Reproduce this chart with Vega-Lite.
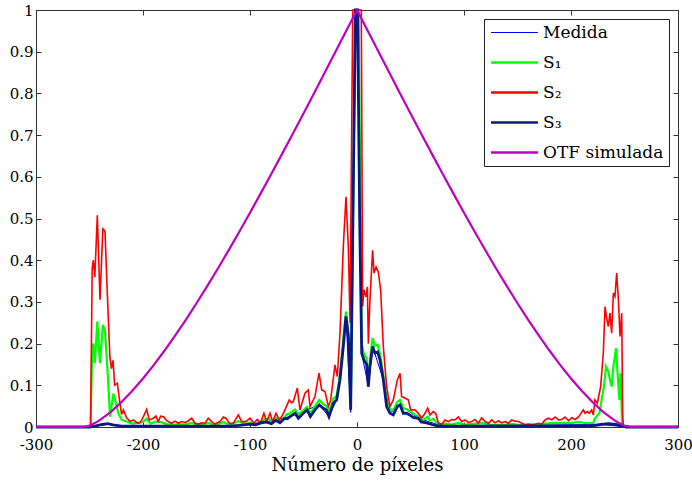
{
"$schema": "https://vega.github.io/schema/vega-lite/v6.json",
"autosize": "none",
"width": 642,
"height": 417,
"padding": {"left": 36, "top": 10, "right": 14, "bottom": 55},
"background": "white",
"config": {
  "view": {"stroke": "#333", "strokeWidth": 1},
  "font": "DejaVu Serif, serif",
  "axis": {"labelFont": "DejaVu Serif, serif", "titleFont": "DejaVu Serif, serif", "labelFontSize": 15, "titleFontSize": 18, "titleFontWeight": "normal", "labelColor": "black", "titleColor": "black", "domainColor": "#333", "tickColor": "#333", "grid": false, "tickSize": -5, "labelFlush": false, "labelOverlap": false}
},
"data": {"values": [
{"s":"OTF","x":-300,"y":0},{"s":"OTF","x":-255,"y":0},{"s":"OTF","x":-250,"y":0.0033},{"s":"OTF","x":-245,"y":0.0094},{"s":"OTF","x":-240,"y":0.0171},{"s":"OTF","x":-230,"y":0.0363},{"s":"OTF","x":-220,"y":0.0598},{"s":"OTF","x":-210,"y":0.0869},{"s":"OTF","x":-200,"y":0.1163},{"s":"OTF","x":-190,"y":0.1484},{"s":"OTF","x":-180,"y":0.1828},{"s":"OTF","x":-170,"y":0.2191},{"s":"OTF","x":-160,"y":0.2571},{"s":"OTF","x":-150,"y":0.2968},{"s":"OTF","x":-140,"y":0.3379},{"s":"OTF","x":-130,"y":0.3802},{"s":"OTF","x":-120,"y":0.4237},{"s":"OTF","x":-110,"y":0.4682},{"s":"OTF","x":-100,"y":0.5138},{"s":"OTF","x":-90,"y":0.5602},{"s":"OTF","x":-80,"y":0.6072},{"s":"OTF","x":-70,"y":0.655},{"s":"OTF","x":-60,"y":0.7032},{"s":"OTF","x":-50,"y":0.7519},{"s":"OTF","x":-40,"y":0.8011},{"s":"OTF","x":-30,"y":0.8506},{"s":"OTF","x":-20,"y":0.9003},{"s":"OTF","x":-10,"y":0.9501},{"s":"OTF","x":0,"y":1},{"s":"OTF","x":10,"y":0.9501},{"s":"OTF","x":20,"y":0.9003},{"s":"OTF","x":30,"y":0.8506},{"s":"OTF","x":40,"y":0.8011},{"s":"OTF","x":50,"y":0.7519},{"s":"OTF","x":60,"y":0.7032},{"s":"OTF","x":70,"y":0.655},{"s":"OTF","x":80,"y":0.6072},{"s":"OTF","x":90,"y":0.5602},{"s":"OTF","x":100,"y":0.5138},{"s":"OTF","x":110,"y":0.4682},{"s":"OTF","x":120,"y":0.4237},{"s":"OTF","x":130,"y":0.3802},{"s":"OTF","x":140,"y":0.3379},{"s":"OTF","x":150,"y":0.2968},{"s":"OTF","x":160,"y":0.2571},{"s":"OTF","x":170,"y":0.2191},{"s":"OTF","x":180,"y":0.1828},{"s":"OTF","x":190,"y":0.1484},{"s":"OTF","x":200,"y":0.1163},{"s":"OTF","x":210,"y":0.0869},{"s":"OTF","x":220,"y":0.0598},{"s":"OTF","x":230,"y":0.0363},{"s":"OTF","x":240,"y":0.0171},{"s":"OTF","x":245,"y":0.0094},{"s":"OTF","x":250,"y":0.0033},{"s":"OTF","x":255,"y":0},{"s":"OTF","x":300,"y":0},

{"s":"S2","x":-300,"y":0},{"s":"S2","x":-249,"y":0},{"s":"S2","x":-247.5,"y":0.38},{"s":"S2","x":-246.4,"y":0.4},{"s":"S2","x":-245,"y":0.36},{"s":"S2","x":-242.7,"y":0.508},{"s":"S2","x":-240.2,"y":0.305},{"s":"S2","x":-237.5,"y":0.475},{"s":"S2","x":-235.5,"y":0.47},{"s":"S2","x":-233.5,"y":0.33},{"s":"S2","x":-231,"y":0.17},{"s":"S2","x":-229.5,"y":0.14},{"s":"S2","x":-228,"y":0.16},{"s":"S2","x":-226.5,"y":0.1},{"s":"S2","x":-224,"y":0.105},{"s":"S2","x":-222,"y":0.066},{"s":"S2","x":-220,"y":0.03},{"s":"S2","x":-218.4,"y":0.041},{"s":"S2","x":-215.3,"y":0.022},{"s":"S2","x":-212,"y":0.013},{"s":"S2","x":-209,"y":0.017},{"s":"S2","x":-205,"y":0.009},{"s":"S2","x":-202.8,"y":0.01},{"s":"S2","x":-200.3,"y":0.021},{"s":"S2","x":-196.6,"y":0.042},{"s":"S2","x":-194.1,"y":0.017},{"s":"S2","x":-190.3,"y":0.021},{"s":"S2","x":-187.9,"y":0.026},{"s":"S2","x":-185.7,"y":0.013},{"s":"S2","x":-183.5,"y":0.026},{"s":"S2","x":-180.4,"y":0.024},{"s":"S2","x":-177.9,"y":0.015},{"s":"S2","x":-173.2,"y":0.009},{"s":"S2","x":-170.1,"y":0.014},{"s":"S2","x":-167,"y":0.009},{"s":"S2","x":-163.9,"y":0.013},{"s":"S2","x":-160.7,"y":0.011},{"s":"S2","x":-157.6,"y":0.015},{"s":"S2","x":-154.5,"y":0.021},{"s":"S2","x":-151.4,"y":0.009},{"s":"S2","x":-148.3,"y":0.007},{"s":"S2","x":-145.2,"y":0.01},{"s":"S2","x":-142.1,"y":0.009},{"s":"S2","x":-139,"y":0.021},{"s":"S2","x":-135.8,"y":0.013},{"s":"S2","x":-132.7,"y":0.007},{"s":"S2","x":-128,"y":0.013},{"s":"S2","x":-124.9,"y":0.024},{"s":"S2","x":-122.4,"y":0.021},{"s":"S2","x":-119.3,"y":0.009},{"s":"S2","x":-115.6,"y":0.009},{"s":"S2","x":-110.9,"y":0.029},{"s":"S2","x":-107.8,"y":0.013},{"s":"S2","x":-103.8,"y":0.013},{"s":"S2","x":-100,"y":0.021},{"s":"S2","x":-96.3,"y":0.009},{"s":"S2","x":-93.2,"y":0.018},{"s":"S2","x":-90.1,"y":0.01},{"s":"S2","x":-87,"y":0.033},{"s":"S2","x":-84.5,"y":0.013},{"s":"S2","x":-81.3,"y":0.033},{"s":"S2","x":-78.8,"y":0.013},{"s":"S2","x":-75.7,"y":0.033},{"s":"S2","x":-72.6,"y":0.017},{"s":"S2","x":-69.5,"y":0.029},{"s":"S2","x":-65.8,"y":0.05},{"s":"S2","x":-63.3,"y":0.065},{"s":"S2","x":-61,"y":0.058},{"s":"S2","x":-59.5,"y":0.061},{"s":"S2","x":-55.8,"y":0.093},{"s":"S2","x":-53.3,"y":0.041},{"s":"S2","x":-48.6,"y":0.081},{"s":"S2","x":-45.5,"y":0.089},{"s":"S2","x":-43.9,"y":0.049},{"s":"S2","x":-39.3,"y":0.073},{"s":"S2","x":-35.5,"y":0.129},{"s":"S2","x":-33,"y":0.089},{"s":"S2","x":-29.9,"y":0.085},{"s":"S2","x":-26.8,"y":0.049},{"s":"S2","x":-24.6,"y":0.065},{"s":"S2","x":-20.6,"y":0.149},{"s":"S2","x":-18.4,"y":0.121},{"s":"S2","x":-15.9,"y":0.225},{"s":"S2","x":-12.8,"y":0.432},{"s":"S2","x":-10.3,"y":0.552},{"s":"S2","x":-8.1,"y":0.432},{"s":"S2","x":-6.5,"y":0.25},{"s":"S2","x":-4,"y":1},{"s":"S2","x":4,"y":1},{"s":"S2","x":5.3,"y":0.289},{"s":"S2","x":6.5,"y":0.329},{"s":"S2","x":8.4,"y":0.312},{"s":"S2","x":9.7,"y":0.336},{"s":"S2","x":10.6,"y":0.2},{"s":"S2","x":12.1,"y":0.305},{"s":"S2","x":14.6,"y":0.424},{"s":"S2","x":15.9,"y":0.369},{"s":"S2","x":17.8,"y":0.384},{"s":"S2","x":19.9,"y":0.372},{"s":"S2","x":22.1,"y":0.329},{"s":"S2","x":24.6,"y":0.193},{"s":"S2","x":27.7,"y":0.097},{"s":"S2","x":30.8,"y":0.049},{"s":"S2","x":33.9,"y":0.065},{"s":"S2","x":37.7,"y":0.113},{"s":"S2","x":40.2,"y":0.129},{"s":"S2","x":41.7,"y":0.073},{"s":"S2","x":44.9,"y":0.069},{"s":"S2","x":47.9,"y":0.065},{"s":"S2","x":50.2,"y":0.041},{"s":"S2","x":54.2,"y":0.041},{"s":"S2","x":57.3,"y":0.033},{"s":"S2","x":60.4,"y":0.021},{"s":"S2","x":63.6,"y":0.033},{"s":"S2","x":66.1,"y":0.045},{"s":"S2","x":68.2,"y":0.029},{"s":"S2","x":71.3,"y":0.037},{"s":"S2","x":73.5,"y":0.033},{"s":"S2","x":76,"y":0.01},{"s":"S2","x":79.1,"y":0.006},{"s":"S2","x":82.2,"y":0.017},{"s":"S2","x":85.4,"y":0.013},{"s":"S2","x":88.5,"y":0.018},{"s":"S2","x":91.6,"y":0.017},{"s":"S2","x":94.7,"y":0.024},{"s":"S2","x":97.8,"y":0.013},{"s":"S2","x":100.9,"y":0.017},{"s":"S2","x":104.1,"y":0.011},{"s":"S2","x":107.2,"y":0.013},{"s":"S2","x":110.3,"y":0.018},{"s":"S2","x":113.4,"y":0.009},{"s":"S2","x":116.5,"y":0.022},{"s":"S2","x":119.7,"y":0.013},{"s":"S2","x":122.8,"y":0.009},{"s":"S2","x":125.9,"y":0.017},{"s":"S2","x":129,"y":0.01},{"s":"S2","x":132.2,"y":0.015},{"s":"S2","x":135.3,"y":0.01},{"s":"S2","x":138.4,"y":0.013},{"s":"S2","x":141.5,"y":0.009},{"s":"S2","x":144.6,"y":0.017},{"s":"S2","x":147.7,"y":0.014},{"s":"S2","x":150.9,"y":0.013},{"s":"S2","x":154,"y":0.009},{"s":"S2","x":157.1,"y":0.006},{"s":"S2","x":160.2,"y":0.007},{"s":"S2","x":163.4,"y":0.006},{"s":"S2","x":166.5,"y":0.007},{"s":"S2","x":169.6,"y":0.009},{"s":"S2","x":172.7,"y":0.007},{"s":"S2","x":175.8,"y":0.017},{"s":"S2","x":178.9,"y":0.021},{"s":"S2","x":182.1,"y":0.017},{"s":"S2","x":185.2,"y":0.024},{"s":"S2","x":188.3,"y":0.017},{"s":"S2","x":191.4,"y":0.018},{"s":"S2","x":194.5,"y":0.024},{"s":"S2","x":197.7,"y":0.015},{"s":"S2","x":200.8,"y":0.022},{"s":"S2","x":203.9,"y":0.018},{"s":"S2","x":207,"y":0.024},{"s":"S2","x":208.4,"y":0.029},{"s":"S2","x":211.5,"y":0.041},{"s":"S2","x":213.1,"y":0.033},{"s":"S2","x":215.3,"y":0.037},{"s":"S2","x":217.1,"y":0.033},{"s":"S2","x":219.3,"y":0.041},{"s":"S2","x":220.9,"y":0.029},{"s":"S2","x":222.4,"y":0.065},{"s":"S2","x":224.6,"y":0.057},{"s":"S2","x":226.5,"y":0.081},{"s":"S2","x":227.7,"y":0.097},{"s":"S2","x":230.2,"y":0.177},{"s":"S2","x":231.8,"y":0.289},{"s":"S2","x":233.3,"y":0.261},{"s":"S2","x":234.9,"y":0.241},{"s":"S2","x":236.4,"y":0.273},{"s":"S2","x":238,"y":0.225},{"s":"S2","x":239.6,"y":0.321},{"s":"S2","x":241.1,"y":0.313},{"s":"S2","x":242.7,"y":0.369},{"s":"S2","x":244.3,"y":0.305},{"s":"S2","x":245.8,"y":0.217},{"s":"S2","x":247.4,"y":0.273},{"s":"S2","x":248.3,"y":0.029},{"s":"S2","x":249,"y":0},{"s":"S2","x":300,"y":0},

{"s":"S1","x":-300,"y":0},{"s":"S1","x":-249,"y":0},{"s":"S1","x":-247.5,"y":0.19},{"s":"S1","x":-246.4,"y":0.2},{"s":"S1","x":-245,"y":0.153},{"s":"S1","x":-242.7,"y":0.253},{"s":"S1","x":-240.2,"y":0.153},{"s":"S1","x":-237.5,"y":0.245},{"s":"S1","x":-235.5,"y":0.23},{"s":"S1","x":-233,"y":0.129},{"s":"S1","x":-230.8,"y":0.025},{"s":"S1","x":-227.7,"y":0.08},{"s":"S1","x":-225.2,"y":0.057},{"s":"S1","x":-223.2,"y":0.033},{"s":"S1","x":-219.9,"y":0.017},{"s":"S1","x":-215.3,"y":0.013},{"s":"S1","x":-210,"y":0.008},{"s":"S1","x":-205,"y":0.01},{"s":"S1","x":-200.3,"y":0.012},{"s":"S1","x":-196.6,"y":0.02},{"s":"S1","x":-193,"y":0.008},{"s":"S1","x":-188,"y":0.013},{"s":"S1","x":-183.5,"y":0.012},{"s":"S1","x":-178,"y":0.007},{"s":"S1","x":-170,"y":0.006},{"s":"S1","x":-160,"y":0.007},{"s":"S1","x":-154.5,"y":0.01},{"s":"S1","x":-148,"y":0.004},{"s":"S1","x":-139,"y":0.01},{"s":"S1","x":-132,"y":0.004},{"s":"S1","x":-125,"y":0.012},{"s":"S1","x":-119,"y":0.005},{"s":"S1","x":-111,"y":0.014},{"s":"S1","x":-104,"y":0.007},{"s":"S1","x":-100,"y":0.011},{"s":"S1","x":-95,"y":0.006},{"s":"S1","x":-90,"y":0.008},{"s":"S1","x":-87,"y":0.018},{"s":"S1","x":-82,"y":0.02},{"s":"S1","x":-79,"y":0.01},{"s":"S1","x":-75.7,"y":0.022},{"s":"S1","x":-72,"y":0.012},{"s":"S1","x":-69,"y":0.02},{"s":"S1","x":-65.8,"y":0.03},{"s":"S1","x":-62.6,"y":0.033},{"s":"S1","x":-57.9,"y":0.042},{"s":"S1","x":-54.8,"y":0.03},{"s":"S1","x":-50.2,"y":0.04},{"s":"S1","x":-46.7,"y":0.048},{"s":"S1","x":-43.6,"y":0.033},{"s":"S1","x":-39.3,"y":0.05},{"s":"S1","x":-35.2,"y":0.065},{"s":"S1","x":-31.5,"y":0.055},{"s":"S1","x":-28.7,"y":0.05},{"s":"S1","x":-26.2,"y":0.035},{"s":"S1","x":-22.1,"y":0.068},{"s":"S1","x":-19,"y":0.075},{"s":"S1","x":-15.9,"y":0.125},{"s":"S1","x":-12.8,"y":0.21},{"s":"S1","x":-10.3,"y":0.277},{"s":"S1","x":-8.1,"y":0.225},{"s":"S1","x":-5.5,"y":0.1},{"s":"S1","x":-1.5,"y":1},{"s":"S1","x":1.5,"y":1},{"s":"S1","x":4.4,"y":0.2},{"s":"S1","x":6.5,"y":0.175},{"s":"S1","x":9,"y":0.165},{"s":"S1","x":10.6,"y":0.11},{"s":"S1","x":12.1,"y":0.16},{"s":"S1","x":14.6,"y":0.213},{"s":"S1","x":16.8,"y":0.195},{"s":"S1","x":19.3,"y":0.197},{"s":"S1","x":21.5,"y":0.175},{"s":"S1","x":24.6,"y":0.125},{"s":"S1","x":27.7,"y":0.06},{"s":"S1","x":30.8,"y":0.043},{"s":"S1","x":33.9,"y":0.04},{"s":"S1","x":37.7,"y":0.06},{"s":"S1","x":40.2,"y":0.065},{"s":"S1","x":43.3,"y":0.045},{"s":"S1","x":46.4,"y":0.043},{"s":"S1","x":49.3,"y":0.038},{"s":"S1","x":52.4,"y":0.032},{"s":"S1","x":57.3,"y":0.025},{"s":"S1","x":60.4,"y":0.015},{"s":"S1","x":63.6,"y":0.02},{"s":"S1","x":66.1,"y":0.025},{"s":"S1","x":68.2,"y":0.015},{"s":"S1","x":71.3,"y":0.02},{"s":"S1","x":76,"y":0.005},{"s":"S1","x":82,"y":0.008},{"s":"S1","x":88.5,"y":0.006},{"s":"S1","x":94.7,"y":0.01},{"s":"S1","x":100.9,"y":0.006},{"s":"S1","x":110.3,"y":0.008},{"s":"S1","x":116.5,"y":0.01},{"s":"S1","x":125,"y":0.006},{"s":"S1","x":135,"y":0.005},{"s":"S1","x":145,"y":0.007},{"s":"S1","x":155,"y":0.004},{"s":"S1","x":165,"y":0.003},{"s":"S1","x":175.8,"y":0.008},{"s":"S1","x":185.2,"y":0.01},{"s":"S1","x":194.5,"y":0.01},{"s":"S1","x":200.8,"y":0.01},{"s":"S1","x":207,"y":0.012},{"s":"S1","x":215,"y":0.009},{"s":"S1","x":220.9,"y":0.01},{"s":"S1","x":222.4,"y":0.021},{"s":"S1","x":226.5,"y":0.033},{"s":"S1","x":228.6,"y":0.065},{"s":"S1","x":230.8,"y":0.097},{"s":"S1","x":232.7,"y":0.145},{"s":"S1","x":234.9,"y":0.133},{"s":"S1","x":236.4,"y":0.113},{"s":"S1","x":238,"y":0.097},{"s":"S1","x":239.6,"y":0.145},{"s":"S1","x":242.1,"y":0.189},{"s":"S1","x":243.3,"y":0.137},{"s":"S1","x":245.2,"y":0.065},{"s":"S1","x":246.4,"y":0.129},{"s":"S1","x":247.7,"y":0.013},{"s":"S1","x":249,"y":0},{"s":"S1","x":300,"y":0},

{"s":"S3","x":-300,"y":0},{"s":"S3","x":-250,"y":0},{"s":"S3","x":-245,"y":0.002},{"s":"S3","x":-238,"y":0.006},{"s":"S3","x":-233,"y":0.008},{"s":"S3","x":-228,"y":0.005},{"s":"S3","x":-220,"y":0.002},{"s":"S3","x":-150,"y":0.002},{"s":"S3","x":-120,"y":0.002},{"s":"S3","x":-110,"y":0.004},{"s":"S3","x":-100,"y":0.007},{"s":"S3","x":-95,"y":0.005},{"s":"S3","x":-90,"y":0.01},{"s":"S3","x":-85,"y":0.012},{"s":"S3","x":-80,"y":0.008},{"s":"S3","x":-76,"y":0.016},{"s":"S3","x":-72,"y":0.01},{"s":"S3","x":-68,"y":0.02},{"s":"S3","x":-65,"y":0.02},{"s":"S3","x":-62.6,"y":0.025},{"s":"S3","x":-57.9,"y":0.033},{"s":"S3","x":-54.8,"y":0.021},{"s":"S3","x":-50.2,"y":0.033},{"s":"S3","x":-46.7,"y":0.041},{"s":"S3","x":-43.6,"y":0.025},{"s":"S3","x":-39.3,"y":0.041},{"s":"S3","x":-35.2,"y":0.053},{"s":"S3","x":-31.5,"y":0.045},{"s":"S3","x":-28.7,"y":0.041},{"s":"S3","x":-26.2,"y":0.025},{"s":"S3","x":-22.1,"y":0.057},{"s":"S3","x":-19,"y":0.065},{"s":"S3","x":-15.9,"y":0.113},{"s":"S3","x":-12.8,"y":0.193},{"s":"S3","x":-10.3,"y":0.265},{"s":"S3","x":-8.1,"y":0.217},{"s":"S3","x":-5.9,"y":0.041},{"s":"S3","x":-1.5,"y":1},{"s":"S3","x":0.5,"y":1},{"s":"S3","x":2.5,"y":0.5},{"s":"S3","x":4.4,"y":0.177},{"s":"S3","x":6.5,"y":0.161},{"s":"S3","x":9,"y":0.15},{"s":"S3","x":10.6,"y":0.097},{"s":"S3","x":12.1,"y":0.145},{"s":"S3","x":14.6,"y":0.193},{"s":"S3","x":16.8,"y":0.177},{"s":"S3","x":19.3,"y":0.18},{"s":"S3","x":21.5,"y":0.161},{"s":"S3","x":24.6,"y":0.113},{"s":"S3","x":27.7,"y":0.049},{"s":"S3","x":30.8,"y":0.033},{"s":"S3","x":33.9,"y":0.029},{"s":"S3","x":37.7,"y":0.049},{"s":"S3","x":40.2,"y":0.053},{"s":"S3","x":43.3,"y":0.033},{"s":"S3","x":46.4,"y":0.033},{"s":"S3","x":49.3,"y":0.029},{"s":"S3","x":52.4,"y":0.023},{"s":"S3","x":57.3,"y":0.021},{"s":"S3","x":60,"y":0.012},{"s":"S3","x":65,"y":0.01},{"s":"S3","x":70,"y":0.006},{"s":"S3","x":75,"y":0.003},{"s":"S3","x":80,"y":0.002},{"s":"S3","x":220,"y":0.003},{"s":"S3","x":228,"y":0.006},{"s":"S3","x":235,"y":0.008},{"s":"S3","x":242,"y":0.006},{"s":"S3","x":248,"y":0.002},{"s":"S3","x":252,"y":0},{"s":"S3","x":300,"y":0},

{"s":"Medida","x":-300,"y":0},{"s":"Medida","x":-250,"y":0},{"s":"Medida","x":-233,"y":0.008},{"s":"Medida","x":-220,"y":0.002},{"s":"Medida","x":-120,"y":0.002},{"s":"Medida","x":-90,"y":0.01},{"s":"Medida","x":-62.6,"y":0.025},{"s":"Medida","x":-35.2,"y":0.053},{"s":"Medida","x":-26.2,"y":0.025},{"s":"Medida","x":-19,"y":0.065},{"s":"Medida","x":-10.3,"y":0.265},{"s":"Medida","x":-5.9,"y":0.035},{"s":"Medida","x":-1,"y":1},{"s":"Medida","x":0.5,"y":1},{"s":"Medida","x":4.4,"y":0.177},{"s":"Medida","x":10.6,"y":0.097},{"s":"Medida","x":14.6,"y":0.193},{"s":"Medida","x":24.6,"y":0.113},{"s":"Medida","x":30.8,"y":0.033},{"s":"Medida","x":40.2,"y":0.053},{"s":"Medida","x":57.3,"y":0.021},{"s":"Medida","x":80,"y":0.002},{"s":"Medida","x":228,"y":0.006},{"s":"Medida","x":252,"y":0},{"s":"Medida","x":300,"y":0}
]},
"resolve": {"axis": {"x": "independent", "y": "independent"}},
"layer": [
  {
    "transform": [{"filter": "datum.s === 'Medida'"}],
    "mark": {"type": "line", "strokeWidth": 1},
    "encoding": {
      "x": {"field": "x", "type": "quantitative", "scale": {"domain": [-300, 300], "nice": false, "zero": false},
            "axis": {"orient": "bottom", "values": [-300, -200, -100, 0, 100, 200, 300], "title": "Número de píxeles", "labelExpr": "toString(datum.value)", "labelPadding": 15, "titlePadding": 4}},
      "y": {"field": "y", "type": "quantitative", "scale": {"domain": [0, 1], "nice": false},
            "axis": {"orient": "left", "values": [0, 0.1, 0.2, 0.3, 0.4, 0.5, 0.6, 0.7, 0.8, 0.9, 1], "title": null, "labelExpr": "toString(datum.value)", "labelPadding": 8}},
      "color": {"field": "s", "type": "nominal",
        "scale": {"domain": ["Medida", "S1", "S2", "S3", "OTF"], "range": ["#0000ff", "#00ff00", "#ff0000", "#0a1a80", "#bf00bf"]},
        "legend": {"title": null, "orient": "top-right", "offset": 9, "fillColor": "white", "strokeColor": "#222", "padding": 5, "symbolType": "stroke", "symbolSize": 2200, "symbolStrokeWidth": 2.5, "symbolOffset": 17, "labelFont": "DejaVu Serif, serif", "labelFontSize": 17, "labelColor": "black", "rowPadding": 12, "labelOffset": 20,
          "labelExpr": "datum.label === 'S1' ? 'S₁' : datum.label === 'S2' ? 'S₂' : datum.label === 'S3' ? 'S₃' : datum.label === 'OTF' ? 'OTF simulada' : datum.label",
          "encode": {"symbols": {"update": {"strokeWidth": {"signal": "datum.value === 'Medida' ? 1.2 : 2.5"}}}}}}
    }
  },
  {
    "transform": [{"filter": "datum.s === 'S1'"}],
    "mark": {"type": "line", "strokeWidth": 2.2},
    "encoding": {
      "x": {"field": "x", "type": "quantitative", "axis": null},
      "y": {"field": "y", "type": "quantitative", "axis": null},
      "color": {"field": "s", "type": "nominal"}
    }
  },
  {
    "transform": [{"filter": "datum.s === 'S2'"}],
    "mark": {"type": "line", "strokeWidth": 1.6},
    "encoding": {
      "x": {"field": "x", "type": "quantitative", "axis": null},
      "y": {"field": "y", "type": "quantitative", "axis": null},
      "color": {"field": "s", "type": "nominal"}
    }
  },
  {
    "transform": [{"filter": "datum.s === 'S3'"}],
    "mark": {"type": "line", "strokeWidth": 2.8},
    "encoding": {
      "x": {"field": "x", "type": "quantitative", "axis": null},
      "y": {"field": "y", "type": "quantitative", "axis": null},
      "color": {"field": "s", "type": "nominal"}
    }
  },
  {
    "transform": [{"filter": "datum.s === 'OTF'"}],
    "mark": {"type": "line", "strokeWidth": 2.2},
    "encoding": {
      "x": {"field": "x", "type": "quantitative", "axis": {"orient": "top", "values": [-300, -200, -100, 0, 100, 200, 300], "labels": false, "title": null}},
      "y": {"field": "y", "type": "quantitative", "axis": {"orient": "right", "values": [0, 0.1, 0.2, 0.3, 0.4, 0.5, 0.6, 0.7, 0.8, 0.9, 1], "labels": false, "title": null}},
      "color": {"field": "s", "type": "nominal"}
    }
  }
]
}
